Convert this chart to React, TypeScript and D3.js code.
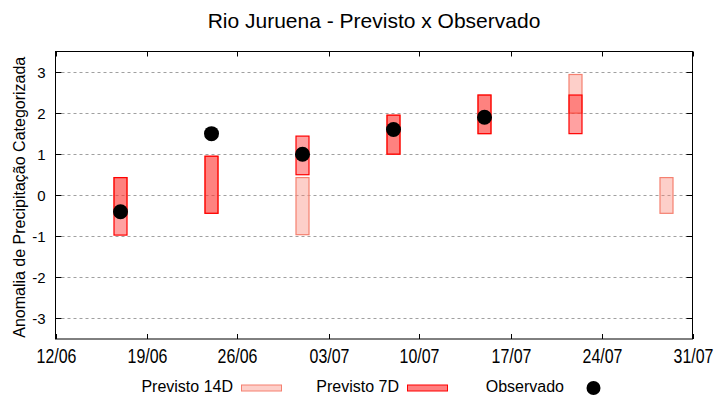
import * as d3 from 'd3';
import React, { useRef, useEffect } from 'react';

// forecast / observation data (dd/mm)
const dates = ['17/06', '24/06', '01/07', '08/07', '15/07', '22/07', '29/07'];
const prev14Lo = [-0.44, -0.44, -0.96, 1.0, 1.5, 2.0, -0.44];
const prev14Hi = [0.43, 0.95, 0.43, 1.95, 2.44, 2.94, 0.43];
const prev7Lo = [-0.97, -0.44, 0.5, 1.0, 1.5, 1.5, null];
const prev7Hi = [0.43, 0.95, 1.44, 1.95, 2.44, 2.44, null];
const observed = [-0.4, 1.5, 1.0, 1.6, 1.9, null, null];

const xTickLabels = ['12/06', '19/06', '26/06', '03/07', '10/07', '17/07', '24/07', '31/07'];
const yTicks = [-3, -2, -1, 0, 1, 2, 3];

const parse = d3.utcParse('%d/%m/%Y');
const toDate = (s: string) => parse(s + '/2024') as Date;

export default function App() {
	const ref = useRef<SVGSVGElement>(null);

	useEffect(() => {
		const w = 720, h = 400;
		const margin = { top: 51.5, right: 27.5, bottom: 61, left: 55.5 };
		const font = 'Liberation Sans, Arial, sans-serif';

		const svg = d3.select(ref.current);
		svg.selectAll('*').remove();

		const x = d3.scaleUtc()
			.domain([toDate(xTickLabels[0]), toDate(xTickLabels[xTickLabels.length - 1])])
			.range([margin.left, w - margin.right]);
		const y = d3.scaleLinear()
			.domain([-3.5, 3.5])
			.range([h - margin.bottom, margin.top]);

		const day = 24 * 3600 * 1000;
		const halfW = (x(new Date(toDate(dates[0]).getTime() + day)) - x(toDate(dates[0]))) / 2;

		// title
		svg.append('text')
			.attr('x', 374)
			.attr('y', 28)
			.attr('text-anchor', 'middle')
			.style('font-family', font)
			.style('font-size', 21)
			.text('Rio Juruena - Previsto x Observado');

		// horizontal grid
		svg.append('g')
			.selectAll('line')
			.data(yTicks)
			.join('line')
			.attr('x1', margin.left)
			.attr('x2', w - margin.right)
			.attr('y1', d => Math.round(y(d)) + 0.5)
			.attr('y2', d => Math.round(y(d)) + 0.5)
			.attr('stroke', '#a0a0a0')
			.attr('stroke-width', 1)
			.attr('stroke-dasharray', '3,3');

		// y axis ticks (left and mirrored right)
		const yt = svg.append('g');
		yTicks.forEach(t => {
			const yy = Math.round(y(t)) + 0.5;
			yt.append('line').attr('x1', margin.left).attr('x2', margin.left + 6).attr('y1', yy).attr('y2', yy).attr('stroke', 'black');
			yt.append('line').attr('x1', w - margin.right).attr('x2', w - margin.right - 6).attr('y1', yy).attr('y2', yy).attr('stroke', 'black');
			yt.append('text')
				.attr('x', margin.left - 10)
				.attr('y', yy + 5.5)
				.attr('text-anchor', 'end')
				.style('font-family', font)
				.style('font-size', 15)
				.text(t);
		});

		// x axis ticks (bottom and mirrored top); labels are condensed
		const xt = svg.append('g');
		xTickLabels.forEach(lbl => {
			const xx = Math.round(x(toDate(lbl))) + 0.5;
			xt.append('line').attr('x1', xx).attr('x2', xx).attr('y1', h - margin.bottom).attr('y2', h - margin.bottom - 5).attr('stroke', 'black');
			xt.append('line').attr('x1', xx).attr('x2', xx).attr('y1', margin.top).attr('y2', margin.top + 5).attr('stroke', 'black');
			xt.append('text')
				.attr('transform', `translate(${xx}, 363) scale(0.76, 1)`)
				.attr('text-anchor', 'middle')
				.style('font-family', font)
				.style('font-size', 21)
				.text(lbl);
		});

		// y label
		svg.append('text')
			.attr('transform', `translate(25, ${(margin.top + h - margin.bottom) / 2 + 2}) rotate(-90)`)
			.attr('text-anchor', 'middle')
			.style('font-family', font)
			.style('font-size', 16)
			.text('Anomalia de Precipitação Categorizada');

		// Previsto 14D
		svg.append('g')
			.selectAll('rect')
			.data(dates.map((d, i) => ({ d, lo: prev14Lo[i], hi: prev14Hi[i] })))
			.join('rect')
			.attr('x', d => x(toDate(d.d)) - halfW)
			.attr('width', halfW * 2)
			.attr('y', d => y(d.hi))
			.attr('height', d => y(d.lo) - y(d.hi))
			.attr('fill', '#fa8072')
			.attr('fill-opacity', 0.38)
			.attr('stroke', '#f58070')
			.attr('stroke-width', 1.2);

		// Previsto 7D
		svg.append('g')
			.selectAll('rect')
			.data(dates.map((d, i) => ({ d, lo: prev7Lo[i], hi: prev7Hi[i] })).filter(d => d.lo !== null))
			.join('rect')
			.attr('x', d => x(toDate(d.d)) - halfW)
			.attr('width', halfW * 2)
			.attr('y', d => y(d.hi as number))
			.attr('height', d => y(d.lo as number) - y(d.hi as number))
			.attr('fill', '#ff0000')
			.attr('fill-opacity', 0.37)
			.attr('stroke', '#ff0000')
			.attr('stroke-width', 1.2);

		// Observado
		svg.append('g')
			.selectAll('circle')
			.data(dates.map((d, i) => ({ d, v: observed[i] })).filter(d => d.v !== null))
			.join('circle')
			.attr('cx', d => x(toDate(d.d)))
			.attr('cy', d => y(d.v as number))
			.attr('r', 7.5)
			.attr('fill', 'black');

		// frame
		svg.append('rect')
			.attr('x', margin.left)
			.attr('y', margin.top)
			.attr('width', w - margin.left - margin.right)
			.attr('height', h - margin.top - margin.bottom)
			.attr('fill', 'none')
			.attr('stroke', 'black')
			.attr('stroke-width', 1);

		// legend
		const lg = svg.append('g').style('font-family', font).style('font-size', 16);
		lg.append('text').attr('x', 233).attr('y', 392).attr('text-anchor', 'end').text('Previsto 14D');
		lg.append('rect').attr('x', 241.5).attr('y', 385).attr('width', 40).attr('height', 6)
			.attr('fill', '#fa8072').attr('fill-opacity', 0.38).attr('stroke', '#f58070');
		lg.append('text').attr('x', 399).attr('y', 392).attr('text-anchor', 'end').text('Previsto 7D');
		lg.append('rect').attr('x', 407.5).attr('y', 385).attr('width', 40).attr('height', 6)
			.attr('fill', '#ff0000').attr('fill-opacity', 0.5).attr('stroke', '#ff0000');
		lg.append('text').attr('x', 564).attr('y', 392).attr('text-anchor', 'end').text('Observado');
		lg.append('circle').attr('cx', 593.5).attr('cy', 388).attr('r', 7).attr('fill', 'black');
	}, []);

	return (
		<svg ref={ref} width={720} height={400}
			style={{ position: 'absolute', left: 0, top: 0, background: 'white' }} />
	);
}
